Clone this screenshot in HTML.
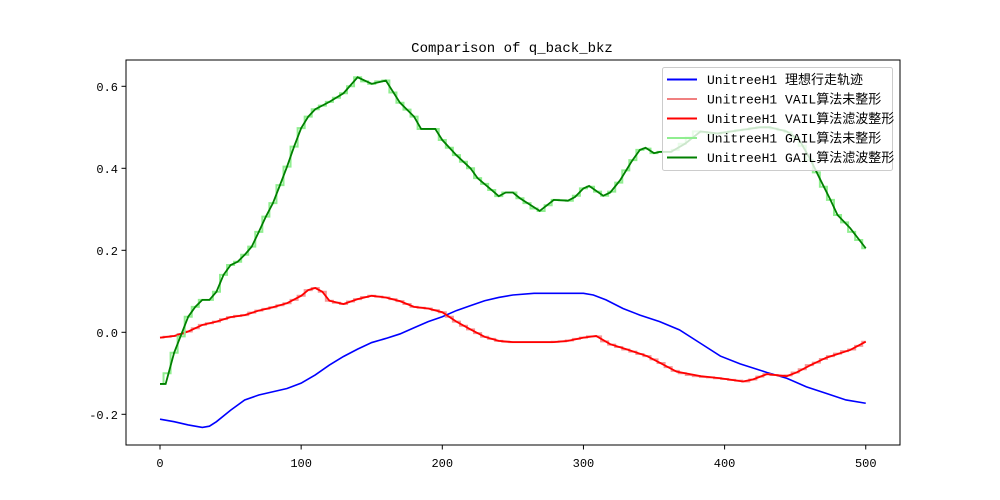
<!DOCTYPE html>
<html><head><meta charset="utf-8">
<style>
body{margin:0;background:#fff;}
svg{display:block;}
text{font-family:"Liberation Mono","Noto Sans CJK SC",monospace;}
</style></head>
<body>
<svg id="chart" width="1000" height="500" viewBox="0 0 1000 500" xmlns="http://www.w3.org/2000/svg">
<rect x="0" y="0" width="1000" height="500" fill="#fff"/>
<text x="512" y="52" font-size="14" text-anchor="middle">Comparison of q_back_bkz</text>
<g id="plot"></g>
<rect x="126" y="60" width="774" height="385" fill="none" stroke="#000" stroke-width="1"/>
<g id="axes"></g>
<g id="legend"></g>
</svg>
<script>
const xTicks=[0,100,200,300,400,500];
const yTicks=[-0.2,0.0,0.2,0.4,0.6];
const yTickLabels=["-0.2","0.0","0.2","0.4","0.6"];

const idealX=[0,10,20,30,35,40,50,60,70,80,90,100,110,120,130,140,150,160,170,180,190,200,210,220,230,240,250,265,300,307,316,328,340,354,368,383,397,411,430,444,458,472,486,500];
const idealY=[-0.212,-0.218,-0.226,-0.232,-0.229,-0.218,-0.19,-0.165,-0.153,-0.145,-0.137,-0.124,-0.104,-0.08,-0.059,-0.041,-0.025,-0.015,-0.004,0.011,0.026,0.038,0.053,0.065,0.077,0.085,0.091,0.095,0.095,0.091,0.079,0.058,0.042,0.026,0.006,-0.027,-0.058,-0.077,-0.098,-0.112,-0.133,-0.149,-0.165,-0.173];

const vailX=[0,10,20,30,40,50,60,70,80,90,100,105,110,115,120,130,140,150,160,170,180,190,200,210,220,230,240,250,279,289,300,309,319,331,345,354,366,383,397,413,420,430,444,451,461,472,489,500];
const vailY=[-0.013,-0.009,0.002,0.018,0.026,0.037,0.042,0.053,0.061,0.071,0.089,0.103,0.108,0.099,0.077,0.069,0.081,0.089,0.085,0.076,0.062,0.058,0.049,0.026,0.007,-0.011,-0.021,-0.024,-0.024,-0.021,-0.013,-0.009,-0.029,-0.042,-0.058,-0.074,-0.096,-0.107,-0.112,-0.12,-0.115,-0.102,-0.107,-0.098,-0.08,-0.062,-0.043,-0.023];

const vailRaw=[-0.013,-0.011,-0.009,-0.004,0.002,0.01,0.018,0.022,0.026,0.032,0.037,0.04,0.042,0.048,0.053,0.057,0.061,0.066,0.071,0.079,0.089,0.103,0.108,0.099,0.077,0.072,0.069,0.075,0.081,0.086,0.089,0.087,0.085,0.081,0.076,0.069,0.062,0.06,0.058,0.054,0.049,0.038,0.026,0.016,0.007,-0.002,-0.011,-0.016,-0.021,-0.023,-0.024,-0.024,-0.024,-0.024,-0.024,-0.024,-0.023,-0.022,-0.02,-0.016,-0.013,-0.01,-0.01,-0.022,-0.03,-0.036,-0.042,-0.047,-0.053,-0.058,-0.066,-0.075,-0.085,-0.094,-0.1,-0.104,-0.107,-0.109,-0.11,-0.112,-0.114,-0.116,-0.118,-0.12,-0.115,-0.108,-0.102,-0.104,-0.106,-0.105,-0.098,-0.09,-0.08,-0.074,-0.065,-0.058,-0.052,-0.046,-0.042,-0.033,-0.023];

const gailX=[0,4,10,20,25,30,35,40,45,50,55,60,65,70,75,80,85,90,95,100,105,110,120,130,140,150,160,170,180,185,195,200,210,220,225,235,240,245,250,255,269,279,289,294,300,304,314,319,326,334,340,344,350,354,362,372,383,395,405,415,425,432,444,453,461,468,475,480,489,500];
const gailY=[-0.126,-0.126,-0.05,0.038,0.062,0.079,0.079,0.099,0.14,0.164,0.172,0.189,0.209,0.245,0.282,0.315,0.359,0.404,0.453,0.498,0.526,0.544,0.562,0.583,0.622,0.606,0.614,0.56,0.526,0.496,0.496,0.469,0.432,0.4,0.376,0.347,0.332,0.341,0.341,0.327,0.296,0.323,0.321,0.33,0.351,0.357,0.333,0.341,0.371,0.416,0.445,0.45,0.437,0.44,0.44,0.46,0.49,0.485,0.49,0.495,0.5,0.5,0.49,0.469,0.42,0.371,0.323,0.286,0.254,0.205];

const gailRaw=[-0.126,-0.1,-0.05,-0.01,0.038,0.062,0.079,0.079,0.099,0.14,0.164,0.172,0.189,0.209,0.245,0.282,0.315,0.359,0.404,0.453,0.498,0.526,0.544,0.553,0.562,0.572,0.583,0.6,0.622,0.612,0.606,0.612,0.614,0.585,0.56,0.543,0.526,0.496,0.496,0.496,0.469,0.45,0.432,0.416,0.4,0.376,0.362,0.347,0.332,0.341,0.341,0.327,0.315,0.302,0.296,0.31,0.323,0.322,0.321,0.333,0.351,0.355,0.343,0.333,0.343,0.365,0.395,0.42,0.445,0.448,0.437,0.44,0.44,0.445,0.46,0.475,0.49,0.488,0.485,0.485,0.487,0.49,0.493,0.495,0.498,0.5,0.5,0.497,0.493,0.488,0.475,0.455,0.42,0.39,0.355,0.323,0.286,0.268,0.245,0.225,0.205];
const rawStep=5;

const NS="http://www.w3.org/2000/svg";
function sx(v){return 160+v*1.4115;}
function sy(v){return 332.3-v*410;}
function mk(tag,attrs,parent){const e=document.createElementNS(NS,tag);for(const k in attrs)e.setAttribute(k,attrs[k]);parent.appendChild(e);return e;}
const plot=document.getElementById('plot');
const axes=document.getElementById('axes');
const legend=document.getElementById('legend');

function linePath(xs,ys){return xs.map((x,i)=>(i?'L':'M')+sx(x).toFixed(2)+','+sy(ys[i]).toFixed(2)).join(' ');}
function stepPath(ys){let d='';for(let i=0;i<ys.length;i++){const x0=Math.max(i*rawStep-rawStep/2,0),x1=Math.min(i*rawStep+rawStep/2,500);d+=(i?'L':'M')+sx(x0).toFixed(2)+','+sy(ys[i]).toFixed(2)+' L'+sx(x1).toFixed(2)+','+sy(ys[i]).toFixed(2)+' ';}return d;}

let p;
p=mk('path',{d:linePath(idealX,idealY),fill:'none',stroke:'#0000ff','stroke-width':1.6},plot);


p=mk('path',{d:stepPath(vailRaw),fill:'none',stroke:'#f08080','stroke-width':2,'stroke-opacity':0.8},plot);


p=mk('path',{d:linePath(vailX,vailY),fill:'none',stroke:'#ff0000','stroke-width':1.8},plot);


p=mk('path',{d:stepPath(gailRaw),fill:'none',stroke:'#90ee90','stroke-width':2},plot);


p=mk('path',{d:linePath(gailX,gailY),fill:'none',stroke:'#008000','stroke-width':1.8},plot);



xTicks.forEach(v=>{
  const x=sx(v);
  const t=mk('line',{x1:x,y1:445,x2:x,y2:449.5,stroke:'#000'},axes);
  
  
  const l=mk('text',{x:x,y:467,'font-size':12,'text-anchor':'middle'},axes);
  l.textContent=String(v);
  
  
});
yTicks.forEach((v,i)=>{
  const y=sy(v);
  const t=mk('line',{x1:121.5,y1:y,x2:126,y2:y,stroke:'#000'},axes);
  
  
  const l=mk('text',{x:118,y:y+4.5,'font-size':12,'text-anchor':'end'},axes);
  l.textContent=yTickLabels[i];
  
  
});

const lb=mk('rect',{x:662.5,y:67.5,width:230,height:103,rx:2,fill:'#fff','fill-opacity':0.8,stroke:'#ccc'},legend);


const legNames=["UnitreeH1 理想行走轨迹","UnitreeH1 VAIL算法未整形","UnitreeH1 VAIL算法滤波整形","UnitreeH1 GAIL算法未整形","UnitreeH1 GAIL算法滤波整形"];
const legColors=["#0000ff","#f08080","#ff0000","#90ee90","#008000"];
legNames.forEach((n,i)=>{
  const y=79.5+i*19.5;
  const g=mk('g',{},legend);
  
  
  mk('line',{x1:667,y1:y,x2:697,y2:y,stroke:legColors[i],'stroke-width':2},g);
  const t=mk('text',{x:707,y:y+4.5,'font-size':13},g);
  t.textContent=n;
});
</script>
</body></html>
